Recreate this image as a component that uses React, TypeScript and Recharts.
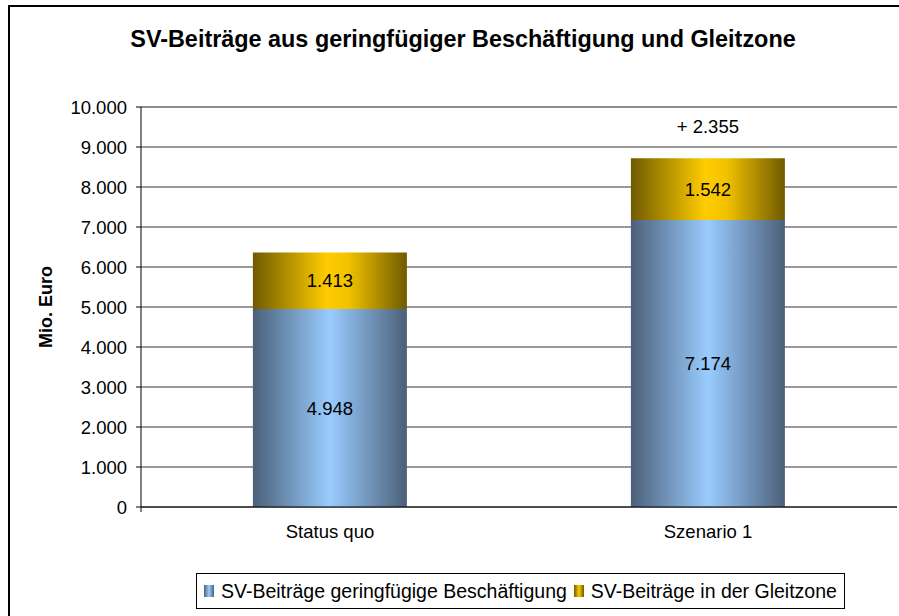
import React from "react";
import {
  BarChart,
  Bar,
  XAxis,
  YAxis,
  CartesianGrid,
  LabelList,
  ReferenceLine,
} from "recharts";

const categories = ["Status quo", "Szenario 1"];
const geringfuegig = [4948, 7174];
const gleitzone = [1413, 1542];
const yTicks = [0, 1000, 2000, 3000, 4000, 5000, 6000, 7000, 8000, 9000, 10000];
const seriesNames = ["SV-Beiträge geringfügige Beschäftigung", "SV-Beiträge in der Gleitzone"];
const title = "SV-Beiträge aus geringfügiger Beschäftigung und Gleitzone";
const yLabel = "Mio. Euro";

const data = categories.map((name, i) => ({
  name,
  geringfuegig: geringfuegig[i],
  gleitzone: gleitzone[i],
}));

const totals = data.map((d) => d.geringfuegig + d.gleitzone);
const delta = totals[1] - totals[0];

const FONT = "Arial, 'Liberation Sans', sans-serif";

const fmt = (v: number) => String(v).replace(/\B(?=(\d{3})+(?!\d))/g, ".");

const DeltaLabel = (props: any) => {
  const { x, y, width, index } = props;
  if (index !== 1) return null;
  return (
    <text
      x={Number(x) + Number(width) / 2}
      y={Number(y) - 25}
      textAnchor="middle"
      fontSize={18.5}
      fontFamily={FONT}
      fill="#000"
    >
      {"+ " + fmt(delta)}
    </text>
  );
};

const blueGrad = "linear-gradient(to right, #4b6079, #99ccff 50%, #4b6079)";
const goldGrad = "linear-gradient(to right, #6f5a00, #ffcc00 50%, #6f5a00)";

export default function App() {
  return (
    <div
      style={{
        position: "absolute",
        left: 0,
        top: 0,
        width: 899,
        height: 616,
        overflow: "hidden",
        background: "#fff",
        fontFamily: FONT,
      }}
    >
      <div
        style={{
          position: "absolute",
          left: 8,
          top: 5,
          width: 1000,
          height: 1000,
          borderLeft: "2px solid #000",
          borderTop: "2px solid #000",
        }}
      />
      <div
        style={{
          position: "absolute",
          left: 0,
          width: 926,
          top: 28,
          textAlign: "center",
          fontSize: 23.4,
          lineHeight: "23px",
          fontWeight: "bold",
        }}
      >
        {title}
      </div>
      <div
        style={{
          position: "absolute",
          left: 46,
          top: 307,
          transform: "translate(-50%, -50%) rotate(-90deg)",
          fontSize: 18,
          fontWeight: "bold",
          whiteSpace: "nowrap",
        }}
      >
        {yLabel}
      </div>
      <div style={{ position: "absolute", left: 0, top: 0 }}>
        <BarChart
          width={899}
          height={616}
          data={data}
          margin={{ top: 107, right: 2, bottom: 0, left: 0 }}
          barCategoryGap="29.6%"
        >
          <defs>
            <linearGradient id="blueFill" x1="0" y1="0" x2="1" y2="0">
              <stop offset="0%" stopColor="#4b6079" />
              <stop offset="50%" stopColor="#99ccff" />
              <stop offset="100%" stopColor="#4b6079" />
            </linearGradient>
            <linearGradient id="goldFill" x1="0" y1="0" x2="1" y2="0">
              <stop offset="0%" stopColor="#6f5a00" />
              <stop offset="48%" stopColor="#ffcc00" />
              <stop offset="62%" stopColor="#f2c200" />
              <stop offset="100%" stopColor="#6f5a00" />
            </linearGradient>
          </defs>
          <CartesianGrid vertical={false} stroke="#333" />
          <XAxis
            xAxisId="aEdge"
            type="number"
            domain={[0, 2]}
            ticks={[0, 1, 2]}
            height={1}
            axisLine={{ stroke: "#000" }}
            tickLine={{ stroke: "#000" }}
            tickSize={5}
            tick={{ fontSize: 1, fill: "none" }}
            tickFormatter={() => ""}
          />
          <XAxis
            xAxisId="bCat"
            dataKey="name"
            height={108}
            axisLine={false}
            tickLine={false}
            tickSize={6}
            tickMargin={11}
            tick={{ fontSize: 18.5, fill: "#000", fontFamily: FONT }}
          />
          <YAxis
            width={141}
            domain={[0, 10000]}
            ticks={yTicks}
            interval={0}
            tickFormatter={fmt}
            axisLine={{ stroke: "#000" }}
            tickLine={{ stroke: "#000" }}
            tickSize={5}
            tickMargin={9}
            tick={{ fontSize: 18.5, fill: "#000", fontFamily: FONT }}
          />
          <ReferenceLine y={10000} xAxisId="bCat" stroke="#8a8a8a" strokeWidth={1.5} />
          <ReferenceLine x={2} xAxisId="aEdge" stroke="#8a8a8a" strokeWidth={2} />
          <Bar
            xAxisId="bCat"
            dataKey="geringfuegig"
            stackId="a"
            fill="url(#blueFill)"
            isAnimationActive={false}
          >
            <LabelList
              dataKey="geringfuegig"
              position="center"
              formatter={(v: any) => fmt(Number(v))}
              style={{ fontSize: 18.5, fill: "#000", fontFamily: FONT }}
            />
          </Bar>
          <Bar
            xAxisId="bCat"
            dataKey="gleitzone"
            stackId="a"
            fill="url(#goldFill)"
            isAnimationActive={false}
          >
            <LabelList
              dataKey="gleitzone"
              position="center"
              formatter={(v: any) => fmt(Number(v))}
              style={{ fontSize: 18.5, fill: "#000", fontFamily: FONT }}
            />
            <LabelList dataKey="gleitzone" content={DeltaLabel} />
          </Bar>
        </BarChart>
      </div>
      <div
        style={{
          position: "absolute",
          left: 196,
          top: 573,
          width: 649,
          height: 36,
          border: "1px solid #000",
          display: "flex",
          alignItems: "center",
          fontSize: 19.5,
          whiteSpace: "nowrap",
          boxSizing: "border-box",
          paddingLeft: 7,
        }}
      >
        {seriesNames.map((n, i) => (
          <div key={n} style={{ display: "flex", alignItems: "center", marginRight: 7 }}>
            <div
              style={{
                width: 10,
                height: 12,
                marginRight: 7,
                background: i === 0 ? blueGrad : goldGrad,
              }}
            />
            <span>{n}</span>
          </div>
        ))}
      </div>
    </div>
  );
}
